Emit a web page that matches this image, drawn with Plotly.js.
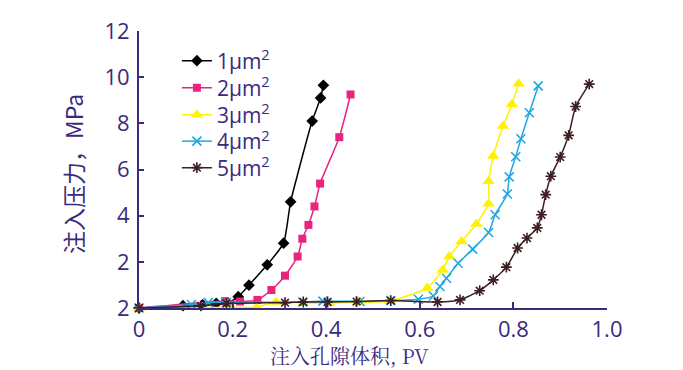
<!DOCTYPE html>
<html>
<head>
<meta charset="utf-8">
<script src="https://cdn.plot.ly/plotly-3.0.1.min.js"></script>
<style>html,body{margin:0;padding:0;background:#fff;}#chart{width:683px;height:370px;}</style>
</head>
<body>
<div id="chart"></div>
<script>
// Series names
const seriesNames = ['1μm<sup>2</sup>', '2μm<sup>2</sup>', '3μm<sup>2</sup>', '4μm<sup>2</sup>', '5μm<sup>2</sup>'];

// 1 μm²
const x1 = [0, 0.094, 0.136, 0.165, 0.188, 0.212, 0.235, 0.274, 0.309, 0.324, 0.370, 0.388, 0.394];
const y1 = [0, 0.10, 0.14, 0.20, 0.20, 0.49, 0.99, 1.87, 2.81, 4.60, 8.10, 9.10, 9.65];
// 2 μm²
const x2 = [0, 0.184, 0.216, 0.253, 0.283, 0.312, 0.339, 0.349, 0.362, 0.375, 0.387, 0.428, 0.452];
const y2 = [0, 0.30, 0.28, 0.35, 0.78, 1.40, 2.23, 3.00, 3.60, 4.40, 5.39, 7.40, 9.25];
// 3 μm²
const x3 = [0, 0.197, 0.251, 0.293, 0.351, 0.407, 0.469, 0.536, 0.616, 0.649, 0.663, 0.689, 0.721, 0.747, 0.747, 0.757, 0.778, 0.797, 0.811];
const y3 = [0, 0.03, 0.03, 0.26, 0.22, 0.22, 0.25, 0.30, 0.87, 1.65, 2.23, 2.88, 3.64, 4.52, 5.49, 6.58, 7.88, 8.83, 9.72];
// 4 μm²
const x4 = [0, 0.112, 0.148, 0.187, 0.350, 0.393, 0.472, 0.538, 0.597, 0.629, 0.643, 0.657, 0.682, 0.713, 0.747, 0.761, 0.787, 0.791, 0.805, 0.816, 0.834, 0.853];
const y4 = [0, 0.15, 0.23, 0.25, 0.26, 0.30, 0.28, 0.32, 0.38, 0.52, 0.93, 1.29, 1.94, 2.55, 3.27, 4.04, 4.94, 5.68, 6.55, 7.33, 8.46, 9.62];
// 5 μm²
const x5 = [0, 0.132, 0.187, 0.312, 0.351, 0.403, 0.465, 0.538, 0.638, 0.686, 0.728, 0.757, 0.785, 0.809, 0.829, 0.851, 0.860, 0.869, 0.880, 0.900, 0.918, 0.933, 0.962];
const y5 = [0, 0.09, 0.20, 0.23, 0.26, 0.26, 0.28, 0.32, 0.26, 0.35, 0.75, 1.22, 1.77, 2.60, 3.03, 3.47, 4.04, 4.91, 5.71, 6.54, 7.48, 8.73, 9.70];

// Axis ticks
const yTickVals = [0, 2, 4, 6, 8, 10, 12];
const yTickText = ['2', '2', '4', '6', '8', '10', '12'];
const xTickVals = [0, 0.2, 0.4, 0.6, 0.8, 1.0];
const xTickText = ['0', '0.2', '0.4', '0.6', '0.8', '1.0'];

const xTitle = '注入孔隙体积, PV';
const yTitle = '注入压力，MPa';

const axisColor = '#3b2a7c';
const lineShape = {shape: 'spline', smoothing: 0.5, width: 1.5};
const legendIds = ['legend', 'legend2', 'legend3', 'legend4', 'legend5'];

function mk(x, y, i, color, marker) {
  return {
    x: x, y: y, name: seriesNames[i], legend: legendIds[i], type: 'scatter', mode: 'lines+markers',
    line: Object.assign({color: color}, lineShape),
    marker: marker, cliponaxis: false
  };
}

const traces = [
  mk(x1, y1, 0, '#000000', {symbol: 'diamond', size: 9, color: '#000000'}),
  mk(x2, y2, 1, '#e8247f', {symbol: 'square', size: 8, color: '#e8247f'}),
  mk(x3, y3, 2, '#fff200', {symbol: 'triangle-up', size: 11, color: '#fff200'}),
  mk(x4, y4, 3, '#1fa8e0', {symbol: 'x-thin-open', size: 9, color: '#1fa8e0', line: {width: 1.6, color: '#1fa8e0'}}),
  mk(x5, y5, 4, '#3d1f22', {symbol: 'asterisk-open', size: 9, color: '#3d1f22', line: {width: 1.6, color: '#3d1f22'}})
];

const tickFont = {family: 'Open Sans, Liberation Sans, sans-serif', size: 22, color: axisColor};
const legendFont = {family: 'Open Sans, Liberation Sans, sans-serif', size: 21, color: axisColor};
const plotLeft = 139, plotRight = 607, plotTop = 31, plotBottom = 308;
const legendRowsPx = [61, 88, 115, 141.5, 168];

function px2paperX(p) { return (p - plotLeft) / (plotRight - plotLeft); }
function px2paperY(p) { return (plotBottom - p) / (plotBottom - plotTop); }

const layout = {
  width: 683, height: 370,
  margin: {l: plotLeft, r: 683 - plotRight, t: plotTop, b: 370 - plotBottom, pad: 0},
  paper_bgcolor: '#ffffff', plot_bgcolor: '#ffffff',
  showlegend: true,
  xaxis: {
    range: [0, 1], tickvals: xTickVals, ticktext: xTickText,
    showgrid: false, zeroline: false, showline: true, linecolor: axisColor, linewidth: 2,
    ticks: 'inside', ticklen: 6, tickwidth: 2, tickcolor: axisColor,
    tickfont: tickFont, ticklabelstandoff: 1, fixedrange: true
  },
  yaxis: {
    range: [0, 12], tickvals: yTickVals, ticktext: yTickText,
    showgrid: false, zeroline: false, showline: true, linecolor: axisColor, linewidth: 2,
    ticks: 'inside', ticklen: 5, tickwidth: 2, tickcolor: axisColor,
    tickfont: tickFont, ticklabelstandoff: 3, fixedrange: true
  },
  annotations: [{
    text: xTitle, xref: 'paper', yref: 'paper', x: px2paperX(349), y: px2paperY(355),
    xanchor: 'center', yanchor: 'middle', showarrow: false,
    font: {family: 'Noto Serif CJK SC, Liberation Serif, Noto Sans CJK SC, serif', size: 20, color: axisColor}
  }, {
    text: yTitle, xref: 'paper', yref: 'paper', x: px2paperX(73), y: px2paperY(174),
    xanchor: 'center', yanchor: 'middle', showarrow: false, textangle: -90,
    font: {family: 'Noto Sans CJK SC, sans-serif', size: 23, color: axisColor}
  }]
};

legendIds.forEach(function (id, i) {
  layout[id] = {
    x: 0.081, y: px2paperY(legendRowsPx[i]),
    xanchor: 'left', yanchor: 'middle',
    bgcolor: 'rgba(0,0,0,0)', borderwidth: 0, font: legendFont
  };
});

Plotly.newPlot('chart', traces, layout, {displayModeBar: false, staticPlot: true});
</script>
</body>
</html>
